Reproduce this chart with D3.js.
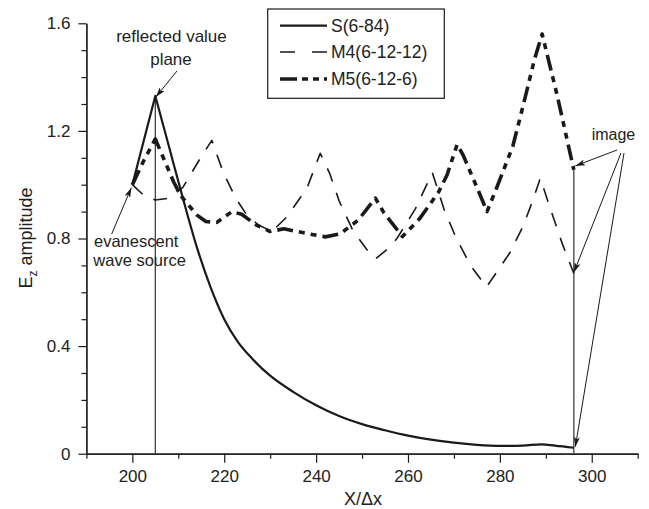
<!DOCTYPE html>
<html>
<head>
<meta charset="utf-8">
<script src="https://cdn.jsdelivr.net/npm/d3@7"></script>
<style>
  html, body { margin: 0; padding: 0; background: #fff; }
  svg { display: block; }
  text { font-family: "Liberation Sans", Arial, Helvetica, sans-serif; fill: #222; }
</style>
</head>
<body>
<svg id="chart" width="649" height="509"></svg>
<script>
// ---------------- data ----------------
const seriesNames = ["S(6-84)", "M4(6-12-12)", "M5(6-12-6)"];

const sX = [200, 205, 208, 211, 214, 217, 220, 223, 226, 230, 235, 240, 245, 250, 255, 260, 265, 270, 275, 280, 285, 289, 292, 296.1];
const sY = [1.00, 1.33, 1.14, 0.95, 0.77, 0.62, 0.50, 0.415, 0.355, 0.29, 0.23, 0.18, 0.14, 0.11, 0.087, 0.067, 0.052, 0.041, 0.033, 0.029, 0.030, 0.035, 0.030, 0.022];

const m4X = [200, 202.5, 205, 208, 211, 214.5, 217.3, 219.8, 222.5, 225, 227.5, 230.4, 233.6, 238, 240.9, 243, 245, 248, 251, 253, 255.5, 257.6, 261.6, 265.3, 267.9, 270.4, 273.6, 277.1, 282.1, 285, 287.2, 288.8, 291.2, 293.6, 296.1];
const m4Y = [1.00, 0.96, 0.943, 0.95, 0.99, 1.09, 1.165, 1.045, 0.95, 0.885, 0.85, 0.826, 0.88, 0.987, 1.117, 1.04, 0.94, 0.83, 0.76, 0.725, 0.76, 0.80, 0.91, 1.045, 0.906, 0.805, 0.70, 0.62, 0.745, 0.844, 0.943, 1.024, 0.90, 0.78, 0.67];

const m5X = [200, 202.5, 205, 207, 209, 210.5, 214, 216, 218.4, 221.7, 223.8, 227, 230, 233, 237.6, 242, 245.2, 249.2, 252.9, 254.7, 258.8, 262.5, 264.9, 266.7, 268.5, 270.7, 272, 274, 275.5, 277.2, 279.2, 282.8, 285.2, 287.5, 289.2, 292.5, 296.1];
const m5Y = [1.00, 1.09, 1.17, 1.09, 1.01, 0.96, 0.888, 0.863, 0.86, 0.90, 0.89, 0.85, 0.826, 0.836, 0.82, 0.806, 0.817, 0.869, 0.95, 0.897, 0.807, 0.873, 0.93, 0.974, 1.036, 1.15, 1.11, 1.03, 0.97, 0.90, 0.984, 1.142, 1.303, 1.464, 1.56, 1.33, 1.055];

const xMajorTicks = [200, 220, 240, 260, 280, 300];
const xMinorTicks = [190, 210, 230, 250, 270, 290, 310];
const yMajorTicks = [0, 0.4, 0.8, 1.2, 1.6];
const yMinorTicks = [0.1, 0.2, 0.3, 0.5, 0.6, 0.7, 0.9, 1.0, 1.1, 1.3, 1.4, 1.5];

// ---------------- setup ----------------
const svg = d3.select("#chart");
const x = d3.scaleLinear().domain([190, 310]).range([86.4, 637.7]);
const y = d3.scaleLinear().domain([0, 1.6]).range([453.7, 23.3]);

const ink = "#1a1a1a";

svg.append("defs").append("marker")
  .attr("id", "arrow").attr("markerUnits", "userSpaceOnUse")
  .attr("viewBox", "0 0 10 6").attr("refX", 10).attr("refY", 3)
  .attr("markerWidth", 10).attr("markerHeight", 6).attr("orient", "auto")
  .append("path").attr("d", "M0,0 L10,3 L0,6 L2.5,3 Z").attr("fill", ink);

// ---------------- axes ----------------
function styleAxis(g) {
  g.selectAll("path.domain").attr("stroke", ink).attr("stroke-width", 1.2);
  g.selectAll(".tick line").attr("stroke", ink).attr("stroke-width", 1.2);
  g.selectAll(".tick text").attr("fill", "#222").style("font-size", "17px")
    .style("font-family", "'Liberation Sans', Arial, sans-serif");
}

svg.append("g").attr("transform", `translate(0,${y(0)})`)
  .call(d3.axisBottom(x).tickValues(xMinorTicks).tickSize(5).tickSizeOuter(0).tickFormat(""))
  .call(styleAxis);
svg.append("g").attr("transform", `translate(0,${y(0)})`)
  .call(d3.axisBottom(x).tickValues(xMajorTicks).tickSize(9).tickPadding(7).tickSizeOuter(0).tickFormat(d3.format("d")))
  .call(styleAxis);

svg.append("g").attr("transform", `translate(${x(190)},0)`)
  .call(d3.axisLeft(y).tickValues(yMinorTicks).tickSize(5).tickSizeOuter(0).tickFormat(""))
  .call(styleAxis);
svg.append("g").attr("transform", `translate(${x(190)},0)`)
  .call(d3.axisLeft(y).tickValues(yMajorTicks).tickSize(8).tickPadding(8).tickSizeOuter(0)
    .tickFormat(d => d === 0 ? "0" : d3.format(".1f")(d)))
  .call(styleAxis);

// axis titles
svg.append("text").attr("x", 363).attr("y", 505).attr("text-anchor", "middle")
  .style("font-size", "18px").text("X/Δx");

const yt = svg.append("text").attr("transform", "translate(31.5,238) rotate(-90)")
  .attr("text-anchor", "middle").style("font-size", "18px");
yt.append("tspan").text("E");
yt.append("tspan").attr("dy", 5).style("font-size", "12px").text("z");
yt.append("tspan").attr("dy", -5).text(" amplitude");

// ---------------- reference vertical lines ----------------
const sPeakIdx = d3.maxIndex(sY);
const m5End = m5X.length - 1;
svg.append("line")
  .attr("x1", x(sX[sPeakIdx])).attr("x2", x(sX[sPeakIdx]))
  .attr("y1", y(0)).attr("y2", y(sY[sPeakIdx]))
  .attr("stroke", "#333").attr("stroke-width", 1.2);
svg.append("line")
  .attr("x1", x(m5X[m5End])).attr("x2", x(m5X[m5End]))
  .attr("y1", y(0)).attr("y2", y(m5Y[m5End]))
  .attr("stroke", "#333").attr("stroke-width", 1.2);

// ---------------- series ----------------
const line = d3.line().x(d => x(d[0])).y(d => y(d[1]));
const smooth = d3.line().x(d => x(d[0])).y(d => y(d[1])).curve(d3.curveMonotoneX);
const styles = [
  { w: 2.2, dash: null },
  { w: 1.6, dash: "14,12" },
  { w: 3.6, dash: "16,6,6,6,6,6" }
];
const sData = d3.zip(sX, sY);
// S: straight rise to the peak, smooth decay after it
const sPath = line(sData.slice(0, sPeakIdx + 1)) + smooth(sData.slice(sPeakIdx)).replace(/^M/, "L");
const paths = [sPath, line(d3.zip(m4X, m4Y)), line(d3.zip(m5X, m5Y))];

paths.forEach((p, i) => {
  svg.append("path").attr("d", p)
    .attr("fill", "none").attr("stroke", ink)
    .attr("stroke-width", styles[i].w)
    .attr("stroke-dasharray", styles[i].dash)
    .attr("stroke-linejoin", "round");
});

// ---------------- legend ----------------
const lg = svg.append("g");
lg.append("rect").attr("x", 267.7).attr("y", 9).attr("width", 176.6).attr("height", 89.3)
  .attr("fill", "#fff").attr("stroke", ink).attr("stroke-width", 1.2);
const rowY = [25.7, 52, 79];
seriesNames.forEach((n, i) => {
  lg.append("line").attr("x1", 280).attr("x2", 327).attr("y1", rowY[i]).attr("y2", rowY[i])
    .attr("stroke", ink).attr("stroke-width", styles[i].w)
    .attr("stroke-dasharray", i === 1 ? "15,17" : (i === 2 ? "17,5,6,5,6,5" : null));
  lg.append("text").attr("x", 331).attr("y", rowY[i] + 6.3)
    .style("font-size", "17.5px").text(n);
});

// ---------------- annotations ----------------
function arrow(x1, y1, x2, y2) {
  svg.append("line").attr("x1", x1).attr("y1", y1).attr("x2", x2).attr("y2", y2)
    .attr("stroke", ink).attr("stroke-width", 1).attr("marker-end", "url(#arrow)");
}

svg.append("text").attr("x", 171.5).attr("y", 41.7).attr("text-anchor", "middle")
  .style("font-size", "17px").text("reflected value");
svg.append("text").attr("x", 171).attr("y", 65).attr("text-anchor", "middle")
  .style("font-size", "17px").text("plane");
arrow(177, 71, x(sX[sPeakIdx]) + 0.5, y(sY[sPeakIdx]) + 1);

svg.append("text").attr("x", 94).attr("y", 247).style("font-size", "16.5px").text("evanescent");
svg.append("text").attr("x", 93.3).attr("y", 266).style("font-size", "16.5px").text("wave source");
arrow(111.7, 234, x(sX[0]) - 1, y(sY[0]) + 3);

svg.append("text").attr("x", 591.7).attr("y", 140).style("font-size", "16px").text("image");
arrow(617, 150, x(m5X[m5End]) + 1.5, y(m5Y[m5End]) - 4);
arrow(621, 153, x(m4X[m4X.length - 1]), y(m4Y[m4Y.length - 1]) - 1);
arrow(624, 153, x(sX[sX.length - 1]) + 1.5, y(sY[sY.length - 1]) - 1);
</script>
</body>
</html>
